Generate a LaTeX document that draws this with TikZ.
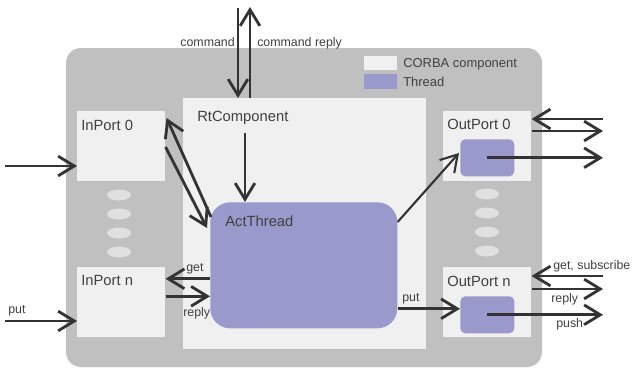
\documentclass[tikz,border=0pt]{standalone}
\usepackage{fontspec}
\setmainfont{Liberation Sans}
\usetikzlibrary{arrows.meta, calc, shapes.geometric}

\definecolor{framegray}{HTML}{C0C0C0}
\definecolor{corbagray}{HTML}{F0F0F0}
\definecolor{threadblue}{HTML}{9999CC}
\definecolor{dotgray}{HTML}{E0E0E0}
\definecolor{ink}{HTML}{333333}
\definecolor{labelgray}{HTML}{404040}

\begin{document}
\begin{tikzpicture}[x=0.025cm, y=-0.025cm,
    corba/.style={fill=corbagray, inner sep=0pt, anchor=north west},
    port/.style={corba, minimum width=2.2cm, minimum height=1.75cm},
    thread/.style={fill=threadblue, inner sep=0pt, anchor=north west},
    portdot/.style={ellipse, fill=dotgray, inner sep=0pt, minimum width=0.6cm, minimum height=0.275cm},
    boxlabel/.style={text=labelgray, font=\fontsize{10.5}{12}\selectfont, inner sep=0pt, anchor=base west},
    msg/.style={text=labelgray, font=\fontsize{8.8}{10}\selectfont, inner sep=0pt, anchor=base west},
    flow/.style={draw=ink, line width=2pt, -{Straight Barb[length=11.5pt, width=14pt]}},
    thinflow/.style={flow, line width=1.5pt}]
    \useasboundingbox (0,0) rectangle (632,369);

    % component frame
    \fill[framegray, rounded corners=0.375cm] (66,48) rectangle (542,367);

    % legend
    \node[corba, minimum width=0.825cm, minimum height=0.35cm] (keycorba) at (364,56) {};
    \node[thread, minimum width=0.825cm, minimum height=0.375cm] (keythread) at (364,74) {};
    \node[msg, font=\fontsize{9.2}{10}\selectfont] (keycorbatxt) at (403,67) {CORBA component};
    \node[msg, font=\fontsize{9.2}{10}\selectfont] (keythreadtxt) at (403,86) {Thread};

    % component body and its activity
    \node[corba, minimum width=6.075cm, minimum height=6.275cm] (rtc) at (183,98) {};
    \node[boxlabel] (rtctxt) at (197,121) {RtComponent};
    \node[thread, rounded corners=0.5cm, minimum width=4.675cm, minimum height=3.15cm] (act) at (210,202) {};
    \node[boxlabel] (acttxt) at (225,226) {ActThread};

    % ports
    \node[port] (in0) at (77,111) {};
    \node[port] (inN) at (77,267) {};
    \node[port] (out0) at (443,111) {};
    \node[port] (outN) at (443,267) {};
    \node[boxlabel] (in0txt) at (81,130) {InPort 0};
    \node[boxlabel] (inNtxt) at (81,285) {InPort n};
    \node[boxlabel] (out0txt) at (447,129) {OutPort 0};
    \node[boxlabel] (outNtxt) at (447,286) {OutPort n};
    \node[thread, rounded corners=0.125cm, minimum width=1.35cm, minimum height=0.925cm] (ot0) at (460,139) {};
    \node[thread, rounded corners=0.125cm, minimum width=1.35cm, minimum height=0.925cm] (otN) at (460,296) {};

    \foreach \i in {0,...,3} {
        \node[portdot] (indot\i) at (119,195+19*\i) {};
        \node[portdot] (outdot\i) at (487,194+19*\i) {};
    }

    % command channel
    \coordinate (cmdin) at (238,8);
    \coordinate (cmdout) at (250,7);
    \draw[flow] (cmdin) -- (cmdin |- rtc.north);
    \draw[flow] (cmdout |- rtc.north) -- (cmdout);
    \node[msg, anchor=base east] (cmdtxt) at (235,46) {command};
    \node[msg] (cmdreplytxt) at (257,46) {command reply};
    \coordinate (exec) at (245,133);
    \draw[flow] (exec) -- (exec |- act.north);

    % input side
    \coordinate (in0src) at (5,166);
    \coordinate (putsrc) at (5,321);
    \draw[flow] (in0src) -- (in0src -| in0.west);
    \draw[flow] (putsrc) -- (putsrc -| inN.west);
    \node[msg] (putintxt) at (8,313) {put};
    \draw[flow] ($(act.north west)+(1,15)$) -- ($(in0.north east)+(1,7)$);
    \draw[flow] ($(in0.north east)+(0,36)$) -- ($(act.north west)+(-3,26)$);
    \path ($(act.west)+(0,13.5)$) coordinate (getpt) ($(inN.east)+(0,-6)$) coordinate (replypt);
    \draw[flow] (getpt) -- (getpt -| inN.east);
    \draw[flow] (replypt) -- (replypt -| act.west);
    \node[msg] (gettxt) at (186,271) {get};
    \node[msg] (replytxt) at (183,316) {reply};

    % output side
    \draw[thinflow] ($(act.north east)+(0,20)$) -- ($(ot0.north west)+(-1,14)$);
    \path ($(otN.west)+(0,-6)$) coordinate (putpt);
    \draw[flow] (putpt -| act.east) -- (putpt);
    \node[msg] (putouttxt) at (402,301) {put};

    \coordinate (o0in) at (603,119);
    \coordinate (o0out) at (603,131);
    \draw[flow] (o0in) -- (o0in -| out0.east);
    \draw[flow] (o0out -| out0.east) -- (o0out);
    \draw[flow] (ot0.center) -- (ot0.center -| o0out);

    \coordinate (oNin) at (603,276);
    \coordinate (oNout) at (603,289);
    \draw[flow] (oNin) -- (oNin -| outN.east);
    \draw[flow] (oNout -| outN.east) -- (oNout);
    \draw[flow] (otN.center) -- (otN.center -| oNout);
    \node[msg] (subtxt) at (553,269) {get, subscribe};
    \node[msg] (oreplytxt) at (551,302) {reply};
    \node[msg] (pushtxt) at (556,327) {push};
\end{tikzpicture}
\end{document}
